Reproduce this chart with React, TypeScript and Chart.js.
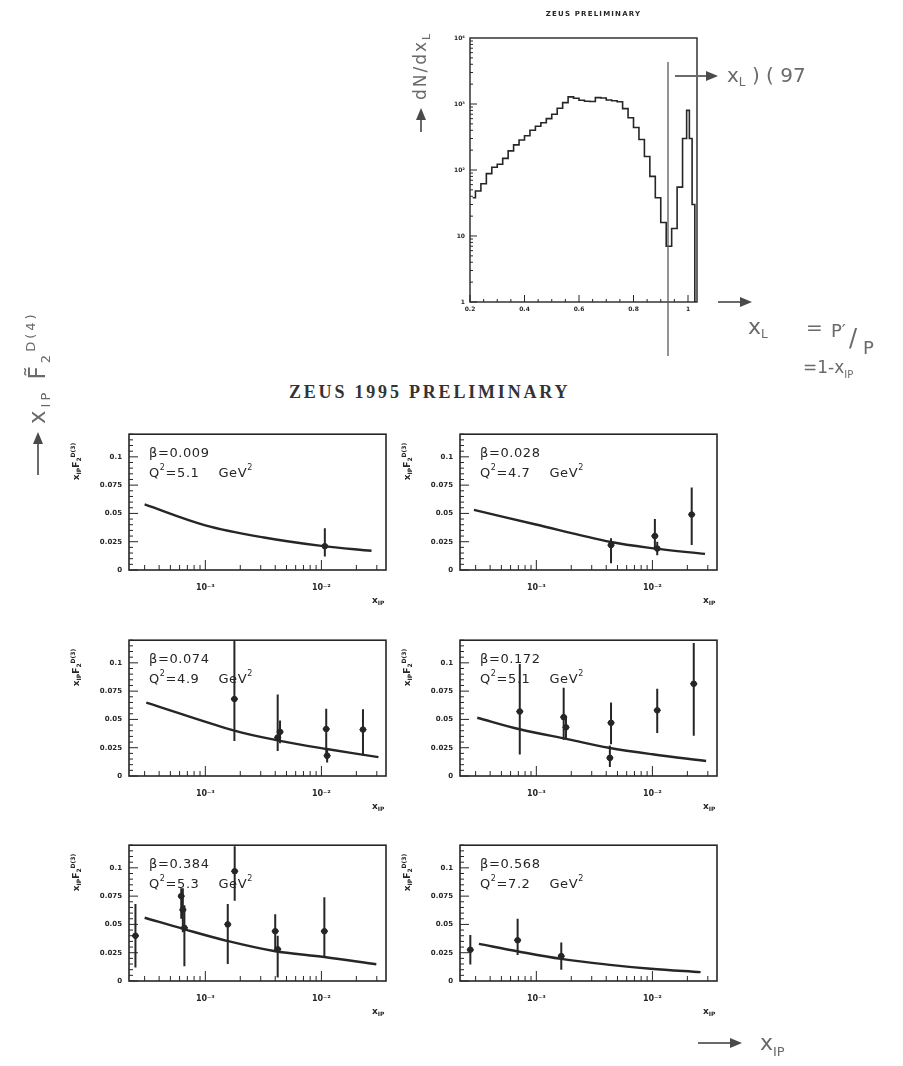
import React, { useEffect, useRef } from 'react';
import { Chart, registerables } from 'chart.js';

Chart.register(...registerables);

const INK = '#262626';
const HAND = '#6a6a6a';
const SANS = '"DejaVu Sans", sans-serif';

// ---- Leading-proton spectrum (counts per x_L bin) ----
const xlBins = [0.21, 0.23, 0.25, 0.27, 0.29, 0.31, 0.33, 0.35, 0.37, 0.39, 0.41, 0.43, 0.45, 0.47, 0.49, 0.51, 0.53, 0.55, 0.57, 0.59, 0.61, 0.63, 0.65, 0.67, 0.69, 0.71, 0.73, 0.75, 0.77, 0.79, 0.81, 0.83, 0.85, 0.87, 0.89, 0.91, 0.93, 0.95, 0.97, 0.99, 1.0, 1.01, 1.02, 1.03];
const xlCounts = [38, 48, 62, 88, 110, 122, 150, 195, 240, 285, 330, 400, 460, 520, 600, 700, 860, 1050, 1280, 1220, 1140, 1100, 1090, 1250, 1230, 1150, 1120, 1080, 850, 620, 440, 290, 160, 80, 38, 16, 7, 13, 55, 300, 800, 300, 30, 1];
const xlTickValues = [0.2, 0.4, 0.6, 0.8, 1];
const xlTickLabels = ['0.2', '0.4', '0.6', '0.8', '1'];
const countTickValues = [1, 10, 100, 1000, 10000];
const countTickLabels = ['1', '10', '10²', '10³', '10⁴'];

// ---- Diffractive structure function panels ----
const betaLabels = ['0.009', '0.028', '0.074', '0.172', '0.384', '0.568'];
const q2Labels = ['5.1', '4.7', '4.9', '5.1', '5.3', '7.2'];
const xipTickValues = [0.001, 0.01];
const xipTickLabels = ['10⁻³', '10⁻²'];
const f2TickValues = [0, 0.025, 0.05, 0.075, 0.1];
const f2TickLabels = ['0', '0.025', '0.05', '0.075', '0.1'];

// beta = 0.009
const b1X = [0.0107];
const b1F2 = [0.021];
const b1Up = [0.016];
const b1Dn = [0.009];
const c1X = [3.0e-4, 1.0e-3, 3.2e-3, 1.0e-2, 2.7e-2];
const c1F2 = [0.058, 0.0395, 0.0287, 0.0213, 0.017];

// beta = 0.028
const b2X = [0.0044, 0.0105, 0.011, 0.0218];
const b2F2 = [0.022, 0.03, 0.019, 0.049];
const b2Up = [0.006, 0.015, 0.006, 0.024];
const b2Dn = [0.016, 0.012, 0.006, 0.027];
const c2X = [2.9e-4, 9.7e-4, 4.4e-3, 1.03e-2, 2.84e-2];
const c2F2 = [0.0532, 0.0404, 0.0247, 0.0191, 0.0142];

// beta = 0.074
const b3X = [0.00178, 0.0042, 0.0044, 0.011, 0.0112, 0.0228];
const b3F2 = [0.068, 0.034, 0.039, 0.0415, 0.018, 0.041];
const b3Up = [0.052, 0.038, 0.01, 0.018, 0.006, 0.018];
const b3Dn = [0.037, 0.012, 0.01, 0.026, 0.006, 0.023];
const c3X = [3.1e-4, 1.78e-3, 4.3e-3, 1.11e-2, 3.1e-2];
const c3F2 = [0.0649, 0.0401, 0.0313, 0.0239, 0.0167];

// beta = 0.172
const b4X = [0.00072, 0.00172, 0.0018, 0.0044, 0.0043, 0.011, 0.0227];
const b4F2 = [0.057, 0.052, 0.043, 0.047, 0.016, 0.058, 0.0815];
const b4Up = [0.042, 0.026, 0.01, 0.018, 0.011, 0.019, 0.036];
const b4Dn = [0.038, 0.02, 0.01, 0.019, 0.008, 0.02, 0.046];
const c4X = [3.1e-4, 7.2e-4, 1.89e-3, 4.2e-3, 1.0e-2, 2.9e-2];
const c4F2 = [0.0515, 0.0413, 0.0324, 0.025, 0.0192, 0.0133];

// beta = 0.384
const b5X = [0.00025, 0.00062, 0.00064, 0.00066, 0.00156, 0.00179, 0.004, 0.0042, 0.0106];
const b5F2 = [0.04, 0.075, 0.063, 0.047, 0.05, 0.097, 0.044, 0.028, 0.044];
const b5Up = [0.028, 0.007, 0.019, 0.02, 0.018, 0.022, 0.015, 0.012, 0.03];
const b5Dn = [0.028, 0.02, 0.02, 0.034, 0.035, 0.026, 0.016, 0.025, 0.023];
const c5X = [3.0e-4, 6.6e-4, 1.56e-3, 3.9e-3, 1.06e-2, 2.97e-2];
const c5F2 = [0.0559, 0.0457, 0.0353, 0.0265, 0.0212, 0.0148];

// beta = 0.568
const b6X = [0.00027, 0.00069, 0.00164];
const b6F2 = [0.0276, 0.036, 0.022];
const b6Up = [0.013, 0.019, 0.012];
const b6Dn = [0.013, 0.013, 0.012];
const c6X = [3.2e-4, 7.0e-4, 1.64e-3, 4.1e-3, 9.7e-3, 2.6e-2];
const c6F2 = [0.0328, 0.0261, 0.0195, 0.0145, 0.0108, 0.0078];

const panelPoints = [
  [b1X, b1F2, b1Up, b1Dn],
  [b2X, b2F2, b2Up, b2Dn],
  [b3X, b3F2, b3Up, b3Dn],
  [b4X, b4F2, b4Up, b4Dn],
  [b5X, b5F2, b5Up, b5Dn],
  [b6X, b6F2, b6Up, b6Dn],
];
const panelCurves = [
  [c1X, c1F2],
  [c2X, c2F2],
  [c3X, c3F2],
  [c4X, c4F2],
  [c5X, c5F2],
  [c6X, c6F2],
];

const XIP_MIN = 2.2e-4;
const XIP_MAX = 0.036;
const F2_MAX = 0.12;

// frame geometry of the six panels (page pixels)
const PANEL_W = 257;
const PANEL_H = 137;
const PANEL_LEFT = [129, 460, 129, 460, 129, 460];
const PANEL_TOP = [433, 433, 639, 639, 844, 844];
const AXIS_W = 62;
const PAD_T = 10;
const PAD_R = 12;
const AXIS_H = 45;

type Run = { t: string; size: number; dy?: number; bold?: boolean };

function drawRuns(ctx: CanvasRenderingContext2D, runs: Run[], x: number, y: number, family = SANS) {
  let cx = x;
  for (const r of runs) {
    ctx.font = `${r.bold ? 'bold ' : ''}${r.size}px ${family}`;
    ctx.fillText(r.t, cx, y + (r.dy || 0));
    cx += ctx.measureText(r.t).width;
  }
}

function panelDecor(idx: number) {
  return {
    id: 'panelDecor' + idx,
    afterDatasetsDraw(chart: any) {
      const { ctx, chartArea: a, scales } = chart;
      const xs = scales.x;
      const ys = scales.y;
      ctx.save();
      ctx.beginPath();
      ctx.rect(a.left, a.top, a.right - a.left, a.bottom - a.top);
      ctx.clip();
      ctx.strokeStyle = INK;
      chart.data.datasets.forEach((ds: any) => {
        if (!ds.errUp) return;
        ds.data.forEach((p: any, k: number) => {
          const px = xs.getPixelForValue(p.x);
          const yHi = ys.getPixelForValue(p.y + ds.errUp[k]);
          const yLo = ys.getPixelForValue(p.y - ds.errDn[k]);
          const py = ys.getPixelForValue(p.y);
          ctx.lineWidth = 2;
          ctx.beginPath();
          ctx.moveTo(px, yHi);
          ctx.lineTo(px, yLo);
          ctx.stroke();
          ctx.lineWidth = 1.4;
          ctx.beginPath();
          ctx.moveTo(px - 3.5, py);
          ctx.lineTo(px + 3.5, py);
          ctx.stroke();
        });
      });
      ctx.restore();
    },
    afterDraw(chart: any) {
      const { ctx, chartArea: a, scales } = chart;
      const xs = scales.x;
      const ys = scales.y;
      ctx.save();
      ctx.strokeStyle = INK;
      ctx.fillStyle = INK;
      // frame
      ctx.lineWidth = 1.6;
      ctx.strokeRect(a.left, a.top, a.right - a.left, a.bottom - a.top);
      // inward ticks on the log axis
      ctx.lineWidth = 1;
      for (let e = -4; e <= -1; e++) {
        for (let m = 1; m <= 9; m++) {
          const v = m * Math.pow(10, e);
          if (v < XIP_MIN || v > XIP_MAX) continue;
          const px = xs.getPixelForValue(v);
          const len = m === 1 ? 10 : 5;
          ctx.beginPath();
          ctx.moveTo(px, a.bottom);
          ctx.lineTo(px, a.bottom - len);
          ctx.stroke();
        }
      }
      // inward ticks on the F2 axis
      for (let i = 0; i * 0.005 <= F2_MAX + 1e-9; i++) {
        const py = ys.getPixelForValue(i * 0.005);
        const len = i % 5 === 0 ? 9 : 4;
        ctx.beginPath();
        ctx.moveTo(a.left, py);
        ctx.lineTo(a.left + len, py);
        ctx.stroke();
      }
      // beta and Q2 labels
      ctx.textBaseline = 'middle';
      ctx.textAlign = 'left';
      (ctx as any).letterSpacing = '0.6px';
      drawRuns(ctx, [{ t: 'β=' + betaLabels[idx], size: 13 }], a.left + 20, a.top + 19);
      drawRuns(
        ctx,
        [
          { t: 'Q', size: 13 },
          { t: '2', size: 8, dy: -5 },
          { t: '=' + q2Labels[idx] + '    GeV', size: 13 },
          { t: '2', size: 8, dy: -5 },
        ],
        a.left + 20,
        a.top + 39,
      );
      (ctx as any).letterSpacing = '0px';
      // x-axis title
      ctx.textBaseline = 'alphabetic';
      drawRuns(
        ctx,
        [
          { t: 'x', size: 9, bold: true },
          { t: 'IP', size: 6, dy: 2, bold: true },
        ],
        a.right - 14,
        a.bottom + 33,
      );
      // y-axis title
      ctx.save();
      ctx.translate(a.left - 50, a.top + 46);
      ctx.rotate(-Math.PI / 2);
      drawRuns(ctx, [
        { t: 'x', size: 9, bold: true },
        { t: 'IP', size: 6, dy: 2, bold: true },
        { t: 'F', size: 9, bold: true },
        { t: '2', size: 6, dy: 2, bold: true },
        { t: 'D(3)', size: 6, dy: -4, bold: true },
      ], 0, 0);
      ctx.restore();
      ctx.restore();
    },
  };
}

function panelConfig(idx: number) {
  const [px, py, up, dn] = panelPoints[idx];
  const [cx, cy] = panelCurves[idx];
  return {
    type: 'scatter',
    data: {
      datasets: [
        {
          type: 'line',
          data: cx.map((x: number, k: number) => ({ x, y: cy[k] })),
          borderColor: INK,
          borderWidth: 2.4,
          pointRadius: 0,
          tension: 0.35,
          fill: false,
        },
        {
          data: px.map((x: number, k: number) => ({ x, y: py[k] })),
          pointRadius: 2.8,
          pointBackgroundColor: INK,
          pointBorderColor: INK,
          errUp: up,
          errDn: dn,
        },
      ],
    },
    options: {
      animation: false,
      responsive: false,
      devicePixelRatio: 1,
      layout: { padding: { top: PAD_T, right: PAD_R, left: 0, bottom: 0 } },
      plugins: { legend: { display: false }, tooltip: { enabled: false } },
      scales: {
        x: {
          type: 'logarithmic',
          min: XIP_MIN,
          max: XIP_MAX,
          grid: { display: false, drawTicks: false },
          border: { display: false },
          afterFit: (s: any) => {
            s.height = AXIS_H;
          },
          afterBuildTicks: (s: any) => {
            s.ticks = xipTickValues.map((v) => ({ value: v }));
          },
          ticks: {
            autoSkip: false,
            maxRotation: 0,
            padding: 13,
            color: INK,
            font: { size: 8, family: SANS, weight: 'bold' },
            callback: (_v: any, i: number) => xipTickLabels[i],
          },
        },
        y: {
          min: 0,
          max: F2_MAX,
          grid: { display: false, drawTicks: false },
          border: { display: false },
          afterFit: (s: any) => {
            s.width = AXIS_W;
          },
          afterBuildTicks: (s: any) => {
            s.ticks = f2TickValues.map((v) => ({ value: v }));
          },
          ticks: {
            autoSkip: false,
            padding: 7,
            color: INK,
            font: { size: 7, family: SANS, weight: 'bold' },
            callback: (_v: any, i: number) => f2TickLabels[i],
          },
        },
      },
    },
    plugins: [panelDecor(idx)],
  };
}

// ---- top spectrum ----
const SPEC_LEFT = 435;
const SPEC_TOP = 0;
const SPEC_AXIS_W = 35;
const SPEC_PAD_T = 38;
const SPEC_PAD_R = 8;
const SPEC_AXIS_H = 23;
const SPEC_W = SPEC_AXIS_W + 227 + SPEC_PAD_R;
const SPEC_H = SPEC_PAD_T + 264 + SPEC_AXIS_H;
const XL_MIN = 0.2;
const XL_MAX = 1.033;

const spectrumDecor = {
  id: 'spectrumDecor',
  afterDraw(chart: any) {
    const { ctx, chartArea: a, scales } = chart;
    const xs = scales.x;
    const ys = scales.y;
    ctx.save();
    ctx.strokeStyle = INK;
    ctx.fillStyle = INK;
    ctx.lineWidth = 1.4;
    ctx.strokeRect(a.left, a.top, a.right - a.left, a.bottom - a.top);
    ctx.lineWidth = 1;
    for (let i = 0; XL_MIN + i * 0.05 <= XL_MAX; i++) {
      const v = XL_MIN + i * 0.05;
      const px = xs.getPixelForValue(v);
      const len = i % 4 === 0 ? 7 : 3;
      ctx.beginPath();
      ctx.moveTo(px, a.bottom);
      ctx.lineTo(px, a.bottom - len);
      ctx.stroke();
    }
    for (let e = 0; e <= 3; e++) {
      for (let m = 1; m <= 9; m++) {
        const v = m * Math.pow(10, e);
        const py = ys.getPixelForValue(v);
        const len = m === 1 ? 7 : 3;
        ctx.beginPath();
        ctx.moveTo(a.left, py);
        ctx.lineTo(a.left + len, py);
        ctx.stroke();
      }
    }
    ctx.textAlign = 'center';
    ctx.textBaseline = 'middle';
    (ctx as any).letterSpacing = '1.2px';
    ctx.font = `bold 7px ${SANS}`;
    ctx.fillText('ZEUS PRELIMINARY', (a.left + a.right) / 2 + 10, 14);
    ctx.restore();
  },
};

function spectrumConfig() {
  return {
    type: 'line',
    data: {
      datasets: [
        {
          data: xlBins.map((x, k) => ({ x, y: xlCounts[k] })),
          stepped: 'middle',
          borderColor: INK,
          borderWidth: 1.6,
          pointRadius: 0,
          fill: false,
        },
      ],
    },
    options: {
      animation: false,
      responsive: false,
      devicePixelRatio: 1,
      layout: { padding: { top: SPEC_PAD_T, right: SPEC_PAD_R, left: 0, bottom: 0 } },
      plugins: { legend: { display: false }, tooltip: { enabled: false } },
      scales: {
        x: {
          type: 'linear',
          min: XL_MIN,
          max: XL_MAX,
          grid: { display: false, drawTicks: false },
          border: { display: false },
          afterFit: (s: any) => {
            s.height = SPEC_AXIS_H;
          },
          afterBuildTicks: (s: any) => {
            s.ticks = xlTickValues.map((v) => ({ value: v }));
          },
          ticks: {
            autoSkip: false,
            maxRotation: 0,
            padding: 4,
            color: INK,
            font: { size: 6, family: SANS, weight: 'bold' },
            callback: (_v: any, i: number) => xlTickLabels[i],
          },
        },
        y: {
          type: 'logarithmic',
          min: 1,
          max: 10000,
          grid: { display: false, drawTicks: false },
          border: { display: false },
          afterFit: (s: any) => {
            s.width = SPEC_AXIS_W;
          },
          afterBuildTicks: (s: any) => {
            s.ticks = countTickValues.map((v) => ({ value: v }));
          },
          ticks: {
            autoSkip: false,
            padding: 5,
            color: INK,
            font: { size: 6, family: SANS, weight: 'bold' },
            callback: (_v: any, i: number) => countTickLabels[i],
          },
        },
      },
    },
    plugins: [spectrumDecor],
  };
}

function ChartCanvas(props: { left: number; top: number; width: number; height: number; build: () => any }) {
  const ref = useRef<HTMLCanvasElement | null>(null);
  useEffect(() => {
    const chart = new Chart(ref.current as HTMLCanvasElement, props.build());
    return () => chart.destroy();
  }, []);
  return (
    <canvas
      ref={ref}
      width={props.width}
      height={props.height}
      style={{ position: 'absolute', left: props.left, top: props.top, width: props.width, height: props.height }}
    />
  );
}

function Arrow(props: { x1: number; y1: number; x2: number; y2: number }) {
  const { x1, y1, x2, y2 } = props;
  const ang = Math.atan2(y2 - y1, x2 - x1);
  const L = 12;
  const W = 5;
  const bx = x2 - L * Math.cos(ang);
  const by = y2 - L * Math.sin(ang);
  const p1 = `${bx - W * Math.sin(ang)},${by + W * Math.cos(ang)}`;
  const p2 = `${bx + W * Math.sin(ang)},${by - W * Math.cos(ang)}`;
  return (
    <g>
      <line x1={x1} y1={y1} x2={bx} y2={by} stroke={HAND} strokeWidth={2} />
      <polygon points={`${x2},${y2} ${p1} ${p2}`} fill="#4a4a4a" />
    </g>
  );
}

function Notes() {
  const hand = { fontFamily: '"DejaVu Sans", sans-serif', fill: HAND };
  return (
    <svg
      width={903}
      height={1060}
      style={{ position: 'absolute', left: 0, top: 0, pointerEvents: 'none' }}
    >
      {/* marker line at the spectrum minimum */}
      <line x1={668} y1={62} x2={668} y2={356} stroke="#5a5a5a" strokeWidth={1.3} />

      {/* spectrum ordinate note */}
      <Arrow x1={421} y1={132} x2={421} y2={108} />
      <text transform="translate(426,100) rotate(-90)" fontSize={17} letterSpacing={2} {...hand}>
        dN/dx<tspan fontSize={11} dy={4}>L</tspan>
      </text>

      {/* cut annotation */}
      <Arrow x1={675} y1={76} x2={718} y2={76} />
      <text x={727} y={82} fontSize={20} {...hand}>
        x<tspan fontSize={12} dy={4}>L</tspan>
        <tspan dy={-4}> ) (</tspan>
        <tspan> 97</tspan>
      </text>

      {/* x_L definition */}
      <Arrow x1={718} y1={302} x2={752} y2={302} />
      <text x={748} y={334} fontSize={22} {...hand}>
        x<tspan fontSize={12} dy={4}>L</tspan>
      </text>
      <text x={806} y={334} fontSize={20} {...hand}>=</text>
      <text x={831} y={337} fontSize={18} {...hand}>P′</text>
      <text x={849} y={346} fontSize={24} {...hand}>/</text>
      <text x={863} y={354} fontSize={18} {...hand}>P</text>
      <text x={803} y={373} fontSize={17} {...hand}>
        =1-x<tspan fontSize={10} dy={5}>IP</tspan>
      </text>

      {/* left ordinate note */}
      <Arrow x1={38} y1={475} x2={38} y2={432} />
      <text transform="translate(45,424) rotate(-90)" fontSize={23} letterSpacing={3} {...hand}>
        x<tspan fontSize={13} dy={5}>IP</tspan>
        <tspan dy={-5}> F̃</tspan>
        <tspan fontSize={13} dy={5}>2</tspan>
        <tspan fontSize={13} dy={-15}>D(4)</tspan>
      </text>

      {/* bottom abscissa note */}
      <Arrow x1={698} y1={1043} x2={742} y2={1043} />
      <text x={760} y={1050} fontSize={22} {...hand}>
        x<tspan fontSize={13} dy={6}>IP</tspan>
      </text>
    </svg>
  );
}

export default function App() {
  return (
    <div style={{ position: 'absolute', left: 0, top: 0, width: 903, height: 1060, background: '#fff', overflow: 'hidden' }}>
      <ChartCanvas left={SPEC_LEFT} top={SPEC_TOP} width={SPEC_W} height={SPEC_H} build={spectrumConfig} />
      <div
        style={{
          position: 'absolute',
          left: 289,
          top: 382,
          fontFamily: '"Liberation Serif", serif',
          fontWeight: 'bold',
          fontSize: 18,
          letterSpacing: 2.8,
          color: '#333',
          whiteSpace: 'nowrap',
        }}
      >
        ZEUS 1995 PRELIMINARY
      </div>
      {PANEL_LEFT.map((l, i) => (
        <ChartCanvas
          key={i}
          left={l - AXIS_W}
          top={PANEL_TOP[i] - PAD_T}
          width={AXIS_W + PANEL_W + PAD_R}
          height={PAD_T + PANEL_H + AXIS_H}
          build={() => panelConfig(i)}
        />
      ))}
      <Notes />
    </div>
  );
}
